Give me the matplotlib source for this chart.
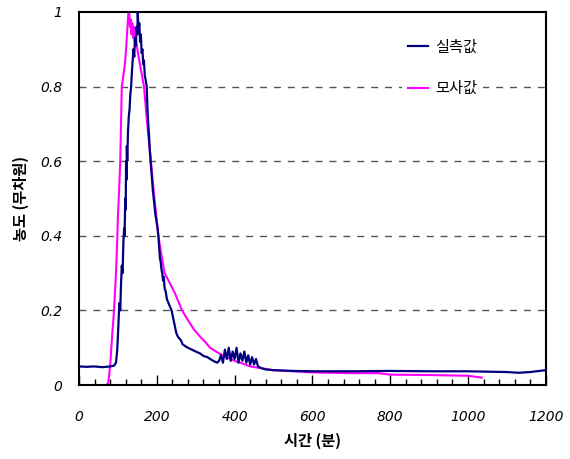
import matplotlib
matplotlib.use("Agg")
import matplotlib.pyplot as plt
from matplotlib.ticker import MultipleLocator

plt.rcParams['font.family'] = ['Noto Sans CJK KR', 'DejaVu Sans']

# 실측값 (measured)
meas_t = [0, 20, 40, 60, 80, 90, 95, 98, 100, 102, 104, 106, 108, 110, 112, 114, 116, 117, 119, 120,
          121, 122, 123, 124, 126, 128, 130, 132, 134, 136, 138, 140, 142, 144, 146, 148, 150, 151,
          153, 155, 157, 159, 161, 163, 165, 167, 169, 171, 174, 176, 178, 180, 182, 184, 187, 190,
          193, 196, 199, 202, 204, 206, 208, 210, 212, 214, 216, 218, 220, 223, 226, 230, 234, 238,
          242, 246, 250, 254, 258, 262, 266, 272, 280, 290, 300, 311, 320, 330, 337, 345, 355, 360,
          365, 370, 375, 380, 385, 390, 395, 400, 405, 410, 415, 420, 425, 430, 435, 440, 445, 450,
          455, 460, 470, 480, 500, 550, 600, 700, 800, 900, 1000, 1100, 1130, 1160, 1200]
meas_c = [0.05, 0.049, 0.05, 0.048, 0.05, 0.052, 0.06, 0.09, 0.13, 0.18, 0.22, 0.2, 0.27, 0.32, 0.3,
          0.38, 0.42, 0.4, 0.5, 0.47, 0.6, 0.55, 0.64, 0.6, 0.68, 0.72, 0.74, 0.78, 0.8, 0.84, 0.87,
          0.9, 0.88, 0.93, 0.91, 0.96, 0.94, 1.0, 0.95, 0.97, 0.92, 0.94, 0.89, 0.9, 0.86, 0.87, 0.83,
          0.82, 0.8, 0.74, 0.7, 0.67, 0.63, 0.6, 0.56, 0.52, 0.49, 0.46, 0.44, 0.42, 0.4, 0.37, 0.34,
          0.33, 0.31, 0.3, 0.28, 0.29, 0.26, 0.25, 0.23, 0.22, 0.21, 0.2, 0.18, 0.16, 0.14, 0.13,
          0.125, 0.12, 0.11, 0.105, 0.1, 0.095, 0.09, 0.085, 0.078, 0.075, 0.07, 0.065, 0.06, 0.065,
          0.08, 0.06, 0.095, 0.07, 0.1, 0.065, 0.09, 0.07, 0.1, 0.06, 0.085, 0.065, 0.09, 0.06, 0.08,
          0.055, 0.075, 0.055, 0.07, 0.05, 0.045, 0.042, 0.04, 0.038, 0.037, 0.037, 0.038, 0.037,
          0.037, 0.035, 0.033, 0.035, 0.04]

# 모사값 (simulated)
sim_t = [0, 70, 75, 80, 85, 90, 95, 98, 100, 103, 106, 108, 110, 114, 118, 121, 124, 127, 129, 131,
         133, 135, 137, 139, 141, 143, 146, 150, 155, 160, 167, 172, 178, 185, 190, 195, 200, 204,
         210, 215, 220, 230, 240, 247, 255, 265, 280, 295, 311, 325, 337, 360, 380, 400, 420, 440,
         470, 500, 550, 600, 700, 770, 800, 900, 1000, 1035]
sim_c = [0, 0, 0.005, 0.05, 0.13, 0.2, 0.3, 0.38, 0.45, 0.52, 0.6, 0.7, 0.8, 0.83, 0.86, 0.9, 0.95,
         1.0, 1.0, 0.96, 0.98, 0.94, 0.97, 0.93, 0.96, 0.92, 0.93, 0.9, 0.87, 0.84, 0.8, 0.74, 0.67,
         0.6, 0.54, 0.49, 0.44, 0.4, 0.36, 0.33, 0.3, 0.28, 0.26, 0.245, 0.225, 0.2, 0.174, 0.15,
         0.13, 0.115, 0.1, 0.085, 0.075, 0.065, 0.058, 0.05, 0.045, 0.04, 0.037, 0.034, 0.032, 0.032,
         0.028, 0.027, 0.025, 0.02]

x_ticks = [0, 200, 400, 600, 800, 1000, 1200]
y_ticks = [0, 0.2, 0.4, 0.6, 0.8, 1.0]
y_tick_labels = ["0", "0.2", "0.4", "0.6", "0.8", "1"]

fig = plt.figure(figsize=(5.7, 4.59), dpi=100)
ax = fig.add_axes([0.1386, 0.161, 0.819, 0.813])

for y in [0.2, 0.4, 0.6, 0.8]:
    ax.axhline(y, color="#555555", lw=1, ls=(0, (5, 5)), zorder=0)

ax.plot(meas_t, meas_c, color="#000080", lw=1.6, label="실측값", zorder=3)
ax.plot(sim_t, sim_c, color="#FF00FF", lw=1.5, label="모사값", zorder=2)

ax.set_xlim(0, 1200)
ax.set_ylim(0, 1)
ax.set_xticks(x_ticks)
ax.xaxis.set_minor_locator(MultipleLocator(40))
ax.set_yticks(y_ticks)
ax.set_yticklabels(y_tick_labels)
ax.tick_params(axis="x", which="major", direction="in", length=7, width=1, pad=18)
ax.tick_params(axis="x", which="minor", direction="in", length=4, width=1)
ax.tick_params(axis="y", length=0, pad=12)
for lab in ax.get_xticklabels() + ax.get_yticklabels():
    lab.set_fontstyle("italic")
    lab.set_fontfamily("DejaVu Sans")
    lab.set_fontsize(10)

for s in ax.spines.values():
    s.set_linewidth(1.5)
    s.set_color("black")

ax.set_xlabel("시간 (분)", fontsize=11, fontweight="bold", fontstyle="italic", labelpad=6)
ax.set_ylabel("농도 (무차원)", fontsize=11, fontweight="bold", fontstyle="italic", labelpad=8)

leg = ax.legend(loc="upper left", bbox_to_anchor=(0.675, 0.965), frameon=True, framealpha=1,
                edgecolor="white", handlelength=1.3, labelspacing=1.6, handletextpad=0.5,
                prop={"style": "italic", "size": 11})
leg.get_frame().set_linewidth(0)

fig.savefig("out.png", dpi=100)
